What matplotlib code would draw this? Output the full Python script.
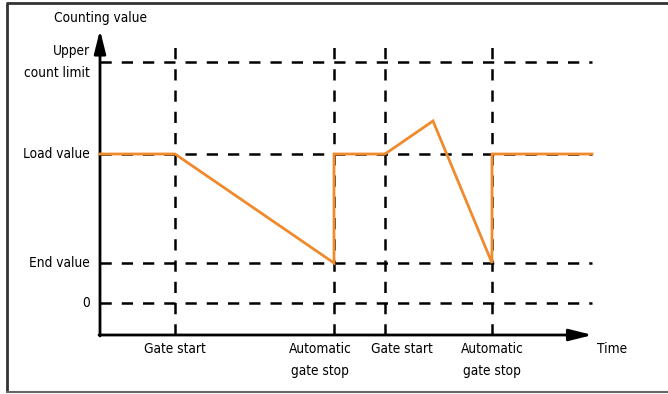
import matplotlib
matplotlib.use("Agg")
import matplotlib.pyplot as plt
from matplotlib import font_manager

# a narrow face looks closest to the original condensed lettering
names = {f.name for f in font_manager.fontManager.ttflist}
if 'Liberation Sans Narrow' in names:
    plt.rcParams['font.family'] = ['Liberation Sans Narrow', 'DejaVu Sans']
    stretch = 'normal'
else:
    plt.rcParams['font.family'] = ['DejaVu Sans']
    stretch = 'condensed'

# counter levels (arbitrary units)
level_names = ['0', 'End value', 'Load value', 'Upper\ncount limit']
level_values = [0, 40, 149, 241]

# event times on the time axis
event_times = [75, 234, 285, 392]
event_labels = ['Gate start', 'Automatic\ngate stop', 'Gate start', 'Automatic\ngate stop']
label_offsets = [0, -14, 17, 0]

# counting value curve
curve_t = [0, 75, 234, 234, 285, 333, 392, 392, 492]
curve_v = [149, 149, 40, 149, 149, 182, 40, 149, 149]

t_end = 492
v_top = 273
v_axis = -32

fig = plt.figure(figsize=(6.68, 3.94), dpi=100)
ax = fig.add_axes([0, 0, 1, 1])
ax.set_xlim(-100, 568)
ax.set_ylim(-91, 303)
ax.axis('off')

# frame around the picture
ax.plot([-93, -93], [-89, 300], color='#333333', lw=2, solid_capstyle='butt')
ax.plot([-94, 568], [300, 300], color='#333333', lw=2, solid_capstyle='butt')
ax.plot([-94, 568], [-89, -89], color='#666666', lw=1.5, solid_capstyle='butt')

dash = (0, (4.5, 4))
for v in level_values:
    ax.plot([0, t_end], [v, v], color='black', lw=1.8, linestyle=dash)
for t in event_times:
    ax.plot([t, t], [v_axis, 261], color='black', lw=1.8, linestyle=dash)

# axes with arrows
ax.annotate('', xy=(0, v_top), xytext=(0, v_axis - 1),
            arrowprops=dict(arrowstyle='-|>,head_length=1.4,head_width=0.35',
                            color='black', lw=2, shrinkA=0, shrinkB=0))
ax.annotate('', xy=(t_end + 0.5, v_axis), xytext=(-1, v_axis),
            arrowprops=dict(arrowstyle='-|>,head_length=1.4,head_width=0.35',
                            color='black', lw=2, shrinkA=0, shrinkB=0))

ax.plot(curve_t, curve_v, color='#f08a2c', lw=2, solid_joinstyle='miter', zorder=5)

fs = 9.8
ax.text(0, 285, 'Counting value', ha='center', va='center', fontsize=fs, fontstretch=stretch)
for name, v in zip(level_names, level_values):
    ax.text(-10, v, name, ha='right', va='center', fontsize=fs, linespacing=1.7,
            fontstretch=stretch)
for t, lab, off in zip(event_times, event_labels, label_offsets):
    ax.text(t + off, v_axis - 7, lab, ha='center', va='top', fontsize=fs, linespacing=1.7,
            fontstretch=stretch)
ax.text(t_end + 20, v_axis - 7, 'Time', ha='center', va='top', fontsize=fs, fontstretch=stretch)

fig.savefig('out.png', dpi=100)
